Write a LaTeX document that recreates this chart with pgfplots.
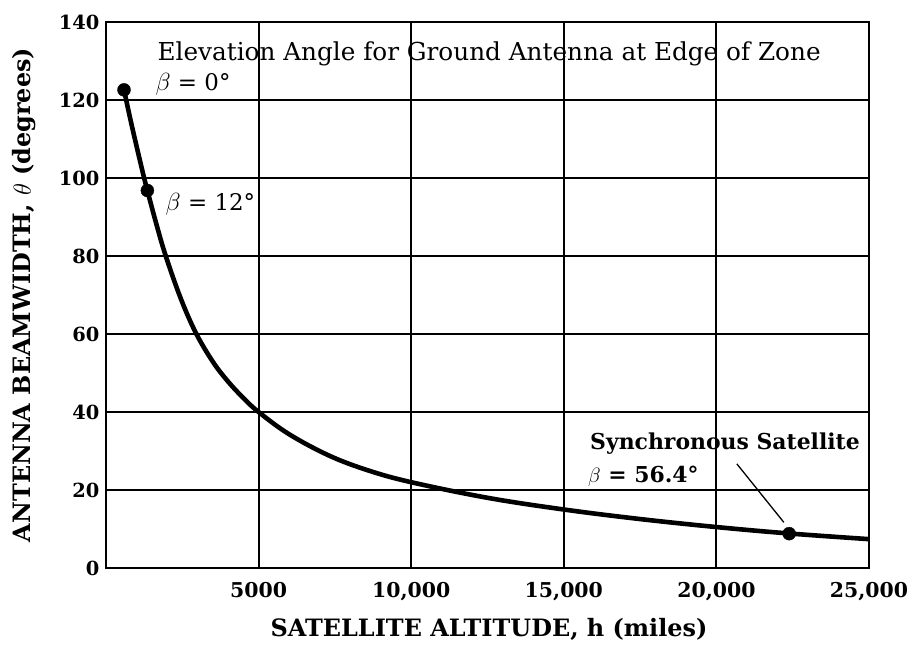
\documentclass[border=0pt]{standalone}
\usepackage{fontspec}
\setmainfont{DejaVu Serif}
\usepackage{pgfplots}
\pgfplotsset{compat=1.18}
\begin{document}
\begin{tikzpicture}
\begin{axis}[
  at={(0,0)}, anchor=south west,
  scale only axis, width=763bp, height=546bp,
  xmin=0, xmax=25000, ymin=0, ymax=140,
  xtick={5000,10000,15000,20000,25000},
  xticklabels={5000,{10,000},{15,000},{20,000},{25,000}},
  ytick={0,20,...,140},
  grid=major, major grid style={black, line width=2bp},
  axis line style={line width=2.8bp},
  tick style={draw=none},
  xticklabel style={font=\fontsize{20.5}{22}\selectfont\bfseries, yshift=-11bp},
  yticklabel style={font=\fontsize{19.5}{21}\selectfont\bfseries, xshift=-3bp},
  /pgf/number format/assume math mode=true,
  scaled x ticks=false,
  xlabel={SATELLITE ALTITUDE, h (miles)},
  ylabel={ANTENNA BEAMWIDTH, $\theta$ (degrees)},
  xlabel style={font=\fontsize{24}{26}\selectfont\bfseries, at={(axis description cs:0.502,-0.112)}, anchor=center},
  ylabel style={font=\fontsize{24}{26}\selectfont\bfseries, at={(axis description cs:-0.107,0.5)}, anchor=center},
  clip=false,
]
\addplot[black, line width=4.6bp, smooth, tension=0.6] coordinates {
(590,122.6) (800,115.0) (1000,108.2) (1200,101.6) (1355,96.8) (1650,88.2)
(1958,80) (2450,69.1) (2943,60.3) (3500,52.9) (4000,47.8) (4500,43.6)
(5000,40) (6000,34.3) (7316,28.8) (8600,25.0) (10000,22) (12500,18.0)
(15000,15) (17500,12.55) (20000,10.5) (22385,8.85) (25000,7.4)
};
\addplot[only marks, mark=*, mark size=6.5bp, black] coordinates {
(590,122.6) (1355,96.8) (22385,8.8)
};
\node[anchor=base west, font=\fontsize{24.8}{26}\selectfont] at (axis cs:1575,130) {Elevation Angle for Ground Antenna at Edge of Zone};
\node[anchor=base west, font=\fontsize{23}{25}\selectfont] at (axis cs:1510,122.4) {$\beta$ = 0°};
\node[anchor=base west, font=\fontsize{23}{25}\selectfont] at (axis cs:1840,91.6) {$\beta$ = 12°};
\node[anchor=base west, font=\fontsize{22}{24}\selectfont\bfseries] at (axis cs:15750,30.5) {Synchronous Satellite};
\node[anchor=base west, font=\fontsize{22}{24}\selectfont\bfseries] at (axis cs:15680,21.9) {$\beta$ = 56.4°};
\draw[line width=1.3bp] (axis cs:20670,26.7) -- (axis cs:22210,11.7);
\end{axis}
\pgfresetboundingbox
\useasboundingbox (-106bp,-81bp) rectangle (811bp,568bp);
\end{tikzpicture}
\end{document}
